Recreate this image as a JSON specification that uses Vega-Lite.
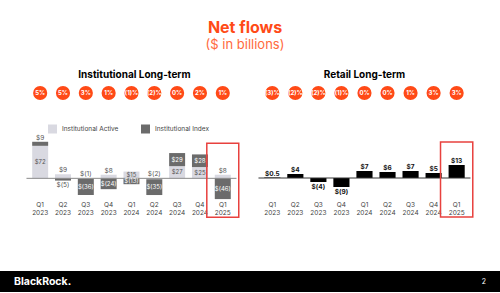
{
  "$schema": "https://vega.github.io/schema/vega-lite/v6.json",
  "padding": {"top": 20, "left": 0, "right": 0, "bottom": 0},
  "background": "white",
  "config": {
    "view": {"stroke": null},
    "font": "Inter",
    "title": {"font": "Inter"}
  },
  "title": {
    "text": "Net flows",
    "subtitle": "($ in billions)",
    "anchor": "middle",
    "dx": -5,
    "fontSize": 16,
    "fontWeight": "bold",
    "color": "#ff4a17",
    "subtitleFontSize": 13,
    "subtitleColor": "#ff6a3d",
    "subtitlePadding": 3,
    "offset": 18
  },
  "datasets": {
    "inst": [
      {"q": "Q1 2023", "series": "Institutional Active", "value": 72, "label": "$72"},
      {"q": "Q1 2023", "series": "Institutional Index", "value": 9, "label": "$9"},
      {"q": "Q2 2023", "series": "Institutional Active", "value": 9, "label": "$9"},
      {"q": "Q2 2023", "series": "Institutional Index", "value": -5, "label": "$(5)"},
      {"q": "Q3 2023", "series": "Institutional Active", "value": -1, "label": "$(1)"},
      {"q": "Q3 2023", "series": "Institutional Index", "value": -36, "label": "$(36)"},
      {"q": "Q4 2023", "series": "Institutional Active", "value": 8, "label": "$8"},
      {"q": "Q4 2023", "series": "Institutional Index", "value": -24, "label": "$(24)"},
      {"q": "Q1 2024", "series": "Institutional Active", "value": 15, "label": "$15"},
      {"q": "Q1 2024", "series": "Institutional Index", "value": -13, "label": "$(13)"},
      {"q": "Q2 2024", "series": "Institutional Active", "value": -2, "label": "$(2)"},
      {"q": "Q2 2024", "series": "Institutional Index", "value": -35, "label": "$(35)"},
      {"q": "Q3 2024", "series": "Institutional Active", "value": 27, "label": "$27"},
      {"q": "Q3 2024", "series": "Institutional Index", "value": 29, "label": "$29"},
      {"q": "Q4 2024", "series": "Institutional Active", "value": 25, "label": "$25"},
      {"q": "Q4 2024", "series": "Institutional Index", "value": 28, "label": "$28"},
      {"q": "Q1 2025", "series": "Institutional Active", "value": 8, "label": "$8"},
      {"q": "Q1 2025", "series": "Institutional Index", "value": -46, "label": "$(46)"}
    ],
    "retail": [
      {"q": "Q1 2023", "value": 0.5, "label": "$0.5"},
      {"q": "Q2 2023", "value": 4, "label": "$4"},
      {"q": "Q3 2023", "value": -4, "label": "$(4)"},
      {"q": "Q4 2023", "value": -9, "label": "$(9)"},
      {"q": "Q1 2024", "value": 7, "label": "$7"},
      {"q": "Q2 2024", "value": 6, "label": "$6"},
      {"q": "Q3 2024", "value": 7, "label": "$7"},
      {"q": "Q4 2024", "value": 5, "label": "$5"},
      {"q": "Q1 2025", "value": 13, "label": "$13"}
    ],
    "instPct": [
      {"q": "Q1 2023", "pct": "5%"}, {"q": "Q2 2023", "pct": "5%"}, {"q": "Q3 2023", "pct": "3%"},
      {"q": "Q4 2023", "pct": "1%"}, {"q": "Q1 2024", "pct": "(1)%"}, {"q": "Q2 2024", "pct": "(2)%"},
      {"q": "Q3 2024", "pct": "0%"}, {"q": "Q4 2024", "pct": "2%"}, {"q": "Q1 2025", "pct": "1%"}
    ],
    "retailPct": [
      {"q": "Q1 2023", "pct": "(3)%"}, {"q": "Q2 2023", "pct": "(2)%"}, {"q": "Q3 2023", "pct": "(2)%"},
      {"q": "Q4 2023", "pct": "(1)%"}, {"q": "Q1 2024", "pct": "0%"}, {"q": "Q2 2024", "pct": "0%"},
      {"q": "Q3 2024", "pct": "1%"}, {"q": "Q4 2024", "pct": "3%"}, {"q": "Q1 2025", "pct": "3%"}
    ]
  },
  "vconcat": [
    {
      "hconcat": [
        {
          "vconcat": [
            {
              "width": 210, "height": 16,
              "title": {"text": "Institutional Long-term", "fontSize": 10, "fontWeight": "bold", "color": "#000", "baseline": "alphabetic", "offset": -3, "dx": 3},
              "data": {"name": "instPct"},
              "encoding": {
                "x": {"field": "q", "type": "nominal", "scale": {"type": "band", "paddingInner": 0.3, "paddingOuter": 0.25, "domain": ["Q1 2023","Q2 2023","Q3 2023","Q4 2023","Q1 2024","Q2 2024","Q3 2024","Q4 2024","Q1 2025"]}, "axis": null}
              },
              "layer": [
                {"mark": {"type": "point", "shape": "circle", "filled": true, "size": 200, "color": "#ff4a17", "opacity": 1}},
                {"mark": {"type": "text", "color": "white", "fontSize": 6, "fontWeight": "bold"}, "encoding": {"text": {"field": "pct"}}}
              ]
            },
            {
              "width": 210, "height": 65,
              "encoding": {
                "x": {"field": "q", "type": "nominal", "scale": {"type": "band", "paddingInner": 0.3, "paddingOuter": 0.25, "domain": ["Q1 2023","Q2 2023","Q3 2023","Q4 2023","Q1 2024","Q2 2024","Q3 2024","Q4 2024","Q1 2025"]},
                  "axis": {"orient": "bottom", "domain": false, "ticks": false, "labelAngle": 0, "labelExpr": "split(datum.label, ' ')", "labelFontSize": 6.5, "labelColor": "#444", "labelLineHeight": 8, "labelPadding": 1, "title": null}}
              },
              "layer": [
                {
                  "data": {"name": "inst"},
                  "transform": [{"stack": "value", "groupby": ["q"], "sort": [{"field": "series", "order": "ascending"}], "as": ["v0", "v1"], "offset": "zero"}],
                  "mark": {"type": "bar"},
                  "encoding": {
                    "y": {"field": "v0", "type": "quantitative", "scale": {"domain": [-48, 96], "nice": false, "zero": false}, "axis": null},
                    "y2": {"field": "v1"},
                    "color": {"field": "series", "type": "nominal",
                      "scale": {"domain": ["Institutional Active", "Institutional Index"], "range": ["#d9d9e1", "#6b6b6b"]},
                      "legend": {"orient": "none", "legendX": 48, "legendY": 39.5, "direction": "horizontal", "title": null, "symbolType": "square", "symbolSize": 81, "symbolStrokeWidth": 0, "labelFontSize": 6.5, "labelColor": "#444", "columnPadding": 22, "padding": 0, "labelOffset": 5}}
                  }
                },
                {
                  "data": {"values": [{}]},
                  "mark": {"type": "rule", "color": "#8a8a8a", "strokeWidth": 1},
                  "encoding": {"x": null, "y": {"datum": 0}}
                },
                {
                  "data": {"name": "inst"},
                  "transform": [
                    {"stack": "value", "groupby": ["q"], "sort": [{"field": "series", "order": "ascending"}], "as": ["v0", "v1"], "offset": "zero"},
                    {"fold": ["v0", "v1"], "as": ["edge", "pos"]},
                    {"aggregate": [{"op": "mean", "field": "pos", "as": "mid"}, {"op": "max", "field": "pos", "as": "top"}, {"op": "min", "field": "pos", "as": "bot"}], "groupby": ["q", "series", "value", "label"]}
                  ],
                  "layer": [
                    {
                      "transform": [{"filter": "abs(datum.value) >= 13"}],
                      "mark": {"type": "text", "fontSize": 6, "baseline": "middle"},
                      "encoding": {
                        "y": {"field": "mid", "type": "quantitative"},
                        "text": {"field": "label"},
                        "color": {"condition": {"test": "datum.series === 'Institutional Index'", "value": "white"}, "value": "#555"}
                      }
                    },
                    {
                      "transform": [{"filter": "abs(datum.value) < 13 && (datum.series === 'Institutional Active' || datum.value > 0)"}],
                      "mark": {"type": "text", "fontSize": 6.5, "baseline": "bottom", "dy": -1, "color": "#555"},
                      "encoding": {"y": {"field": "top", "type": "quantitative"}, "text": {"field": "label"}}
                    },
                    {
                      "transform": [{"filter": "abs(datum.value) < 13 && datum.series === 'Institutional Index' && datum.value < 0"}],
                      "mark": {"type": "text", "fontSize": 6.5, "baseline": "top", "dy": 1.5, "color": "#555"},
                      "encoding": {"y": {"field": "bot", "type": "quantitative"}, "text": {"field": "label"}}
                    }
                  ]
                },
                {
                  "data": {"values": [{}]},
                  "mark": {"type": "bar", "fillOpacity": 0, "stroke": "#e8413e", "strokeWidth": 1.5, "width": {"band": 2}},
                  "encoding": {"x": {"datum": "Q1 2025", "type": "nominal"}, "y": {"datum": 78}, "y2": {"datum": -86}}
                }
              ]
            }
          ],
          "spacing": 34,
          "bounds": "flush"
        },
        {
          "vconcat": [
            {
              "width": 212, "height": 16,
              "title": {"text": "Retail Long-term", "fontSize": 10, "fontWeight": "bold", "color": "#000", "baseline": "alphabetic", "offset": -3},
              "data": {"name": "retailPct"},
              "encoding": {
                "x": {"field": "q", "type": "nominal", "scale": {"type": "band", "paddingInner": 0.3, "paddingOuter": 0.25, "domain": ["Q1 2023","Q2 2023","Q3 2023","Q4 2023","Q1 2024","Q2 2024","Q3 2024","Q4 2024","Q1 2025"]}, "axis": null}
              },
              "layer": [
                {"mark": {"type": "point", "shape": "circle", "filled": true, "size": 200, "color": "#ff4a17", "opacity": 1}},
                {"mark": {"type": "text", "color": "white", "fontSize": 6, "fontWeight": "bold"}, "encoding": {"text": {"field": "pct"}}}
              ]
            },
            {
              "width": 212, "height": 65,
              "encoding": {
                "x": {"field": "q", "type": "nominal", "scale": {"type": "band", "paddingInner": 0.3, "paddingOuter": 0.25, "domain": ["Q1 2023","Q2 2023","Q3 2023","Q4 2023","Q1 2024","Q2 2024","Q3 2024","Q4 2024","Q1 2025"]},
                  "axis": {"orient": "bottom", "domain": false, "ticks": false, "labelAngle": 0, "labelExpr": "split(datum.label, ' ')", "labelFontSize": 6.5, "labelColor": "#444", "labelLineHeight": 8, "labelPadding": 1, "title": null}}
              },
              "layer": [
                {
                  "data": {"name": "retail"},
                  "mark": {"type": "bar", "color": "#000"},
                  "encoding": {"y": {"field": "value", "type": "quantitative", "scale": {"domain": [-22, 43], "nice": false, "zero": false}, "axis": null}}
                },
                {
                  "data": {"values": [{}]},
                  "mark": {"type": "rule", "color": "#333", "strokeWidth": 1},
                  "encoding": {"x": null, "y": {"datum": 0}}
                },
                {
                  "data": {"name": "retail"},
                  "transform": [{"filter": "datum.value > 0"}],
                  "mark": {"type": "text", "fontSize": 6.5, "fontWeight": "bold", "baseline": "bottom", "dy": -1, "color": "#111"},
                  "encoding": {"y": {"field": "value", "type": "quantitative"}, "text": {"field": "label"}}
                },
                {
                  "data": {"name": "retail"},
                  "transform": [{"filter": "datum.value < 0"}],
                  "mark": {"type": "text", "fontSize": 6.5, "fontWeight": "bold", "baseline": "top", "dy": 1.5, "color": "#111"},
                  "encoding": {"y": {"field": "value", "type": "quantitative"}, "text": {"field": "label"}}
                },
                {
                  "data": {"values": [{}]},
                  "mark": {"type": "bar", "fillOpacity": 0, "stroke": "#e8413e", "strokeWidth": 1.5, "width": {"band": 2}},
                  "encoding": {"x": {"datum": "Q1 2025", "type": "nominal"}, "y": {"datum": 36}, "y2": {"datum": -39}}
                }
              ]
            }
          ],
          "spacing": 34,
          "bounds": "flush"
        }
      ],
      "spacing": 17
    },
    {
      "width": 500, "height": 21,
      "data": {"values": [{}]},
      "layer": [
        {"mark": {"type": "rect", "color": "#000"}, "encoding": {}},
        {"mark": {"type": "text", "text": "BlackRock.", "align": "left", "fontSize": 10.5, "fontWeight": "bold", "color": "white"},
          "encoding": {"x": {"datum": 14, "type": "quantitative", "scale": {"domain": [0, 500], "nice": false}, "axis": null}}},
        {"mark": {"type": "text", "text": "2", "align": "center", "fontSize": 7, "color": "white"},
          "encoding": {"x": {"datum": 484, "type": "quantitative"}}}
      ]
    }
  ],
  "spacing": 53,
  "center": true
}
